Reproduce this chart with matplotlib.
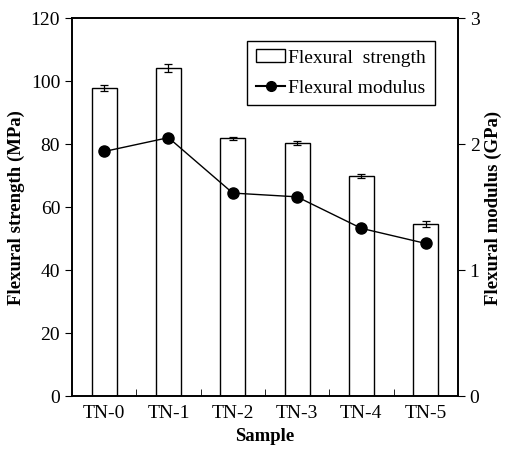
import matplotlib.pyplot as plt
import numpy as np
from matplotlib.lines import Line2D
from matplotlib.patches import Patch

samples = ["TN-0", "TN-1", "TN-2", "TN-3", "TN-4", "TN-5"]
strength = [97.7, 104.0, 81.8, 80.2, 69.8, 54.6]
strength_err = [1.0, 1.3, 0.5, 0.6, 0.6, 0.9]
modulus = [1.94, 2.05, 1.61, 1.58, 1.33, 1.21]

plt.rcParams['font.family'] = ['Liberation Serif', 'DejaVu Serif']
plt.rcParams['font.size'] = 14

fig = plt.figure(figsize=(5.07, 4.52), dpi=100)
ax = fig.add_axes([0.142, 0.122, 0.761, 0.836])
x = np.arange(len(samples))

ax.bar(x, strength, width=0.39, facecolor='white', edgecolor='black', linewidth=1.0,
       yerr=strength_err, capsize=3, error_kw=dict(elinewidth=0.9, capthick=0.9), zorder=2)
ax.set_xlim(-0.5, len(samples) - 0.5)
ax.set_ylim(0, 120)
ax.set_yticks(range(0, 121, 20))
ax.set_xticks(x)
ax.set_xticklabels(samples)
ax.set_xticks(np.arange(0.5, len(samples) - 0.5, 1.0), minor=True)
ax.tick_params(axis='x', which='major', length=0, pad=6)
ax.tick_params(axis='x', which='minor', direction='in', length=5)
ax.tick_params(axis='y', direction='out', length=5)
ax.set_xlabel("Sample", fontweight='bold', fontsize=13.5, labelpad=4)
ax.set_ylabel("Flexural strength (MPa)", fontweight='bold', fontsize=13.5)

ax2 = ax.twinx()
ax2.plot(x, modulus, color='black', marker='o', markersize=8, linewidth=1.0, zorder=3)
ax2.set_ylim(0, 3)
ax2.set_yticks([0, 1, 2, 3])
ax2.tick_params(axis='y', direction='out', length=5)
ax2.set_ylabel("Flexural modulus (GPa)", fontweight='bold', fontsize=13.5)

for a in (ax, ax2):
    for s in a.spines.values():
        s.set_linewidth(1.2)

handles = [Patch(facecolor='white', edgecolor='black', label='Flexural  strength'),
           Line2D([], [], color='black', marker='o', markersize=7, label='Flexural modulus')]
leg = ax2.legend(handles=handles, loc='upper right', bbox_to_anchor=(0.94, 0.94),
                 fancybox=False, edgecolor='black', framealpha=1, handlelength=1.5,
                 handleheight=0.6, handletextpad=0.15, borderpad=0.45, labelspacing=0.65,
                 borderaxespad=0)
leg.get_frame().set_linewidth(1.0)

fig.savefig("out.png", dpi=100)
